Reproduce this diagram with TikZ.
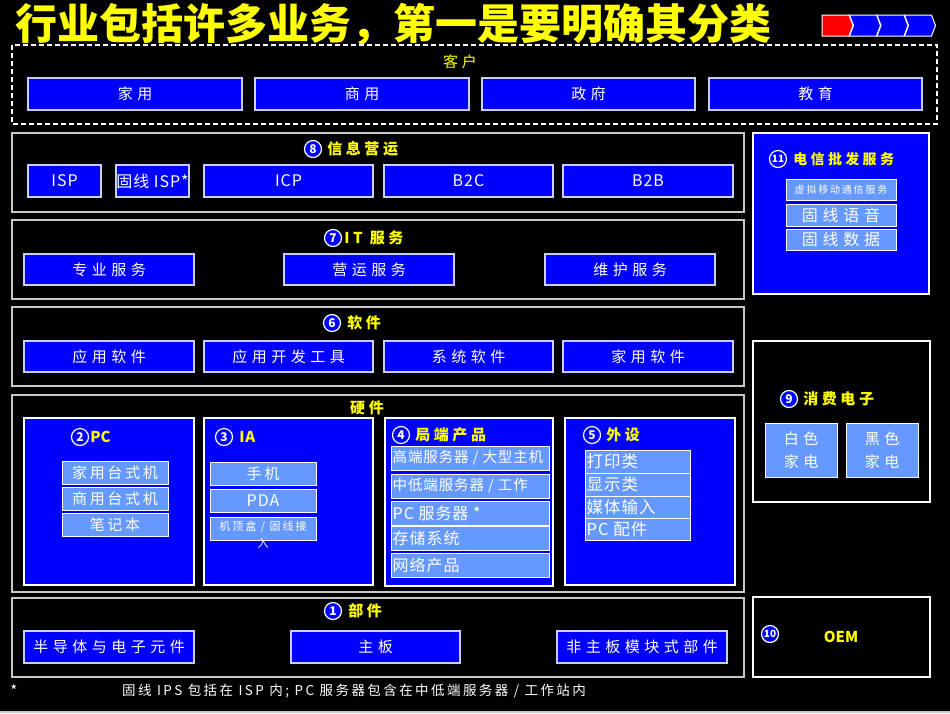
\documentclass[tikz,border=0pt]{standalone}
\usepackage{fontspec}
\setmainfont{Noto Sans CJK SC}
\newfontfamily\boxfont{Noto Sans CJK SC}[LetterSpace=30]
\newfontfamily\subfont{Noto Sans CJK SC}[LetterSpace=18]
\newfontfamily\tightfont{Noto Sans CJK SC}[LetterSpace=6]
\newfontfamily\headfont{Noto Sans CJK SC}[LetterSpace=24]
\usetikzlibrary{positioning}
\definecolor{pblue}{HTML}{0000FF}
\definecolor{lblue}{HTML}{6699FF}
\definecolor{edge}{HTML}{CCCCFF}
\definecolor{frameg}{HTML}{C8C8C8}
\definecolor{ttl}{HTML}{FFFF00}
\definecolor{tipred}{HTML}{FF0000}

\begin{document}
\begin{tikzpicture}[
    x=1pt, y=-1pt,
    item/.style={draw=edge, fill=pblue, text=white, line width=1.2pt, inner sep=0pt, minimum height=32pt, font=\fontsize{15}{15}\selectfont\boxfont},
    latin/.style={font=\fontsize{16}{16}\selectfont\tightfont},
    sub/.style={draw=white, fill=lblue, text=white, line width=1pt, inner sep=0pt, minimum height=23pt, font=\fontsize{15}{15}\selectfont\subfont},
    subtxt/.style={text=white, inner sep=2pt, font=\fontsize{14.5}{15}\selectfont\tightfont},
    group/.style={draw=white, fill=pblue, line width=1.2pt, inner sep=0pt},
    frame/.style={draw=frameg, line width=1.5pt},
    head/.style={text=ttl, inner sep=0pt, font=\fontsize{15}{15}\selectfont\headfont\bfseries},
    numc/.style={circle, fill=pblue, draw=white, line width=1.2pt, text=white, minimum size=17pt, inner sep=0pt, font=\fontsize{12}{12}\selectfont\bfseries}
]

\fill[black] (0,0) rectangle (950,713);
\useasboundingbox (0,0) rectangle (950,713);
\draw[frameg, line width=1.5pt] (0,712) -- (950,712);

% title and progress marks
\node[text=ttl, inner sep=0pt, font=\fontsize{42}{42}\selectfont\bfseries] (title) at (393,25) {行业包括许多业务，第一是要明确其分类};
\foreach \i/\c in {0/tipred,1/pblue,2/pblue,3/pblue}{
  \pgfmathsetmacro{\a}{822+27.5*\i}
  \ifnum\i=0
    \filldraw[fill=\c, draw=white, line width=1pt] (\a,15) -- (\a+27,15) -- (\a+31,25.5) -- (\a+27,36) -- (\a,36) -- cycle;
  \else
    \filldraw[fill=\c, draw=white, line width=1pt] (\a,15) -- (\a+27,15) -- (\a+31,25.5) -- (\a+27,36) -- (\a,36) -- (\a+4,25.5) -- cycle;
  \fi
}

% customers
\draw[white, line width=1.3pt, dash pattern=on 5pt off 3pt] (12,45) rectangle (937,124);
\node[text=ttl, inner sep=0pt, font=\fontsize{15}{15}\selectfont\headfont] (cust) at (460,62) {客户};
\node[item, minimum width=214pt] (home) at (135,94) {家用};
\node[item, minimum width=214pt] (biz) at (362,94) {商用};
\node[item, minimum width=213pt] (gov) at (588.5,94) {政府};
\node[item, minimum width=213pt] (edu) at (815.5,94) {教育};

% 8 information operation
\draw[frame] (12,133) rectangle (744,212);
\node[numc] (c8) at (313,149) {8};
\node[head, right=5pt of c8] (t8) {信息营运};
\node[item, latin, minimum width=73pt] (isp) at (64.5,181) {ISP};
\node[item, latin, minimum width=73pt] (fisp) at (152.5,181) {固线 ISP*};
\node[item, latin, minimum width=169pt] (icp) at (288.5,181) {ICP};
\node[item, latin, minimum width=169pt] (b2c) at (468.5,181) {B2C};
\node[item, latin, minimum width=170pt] (b2b) at (648,181) {B2B};

% 7 IT services
\draw[frame] (12,220) rectangle (744,299);
\node[numc] (c7) at (333,238) {7};
\node[head, right=2pt of c7] (t7) {IT 服务};
\node[item, minimum width=170pt, minimum height=31pt] (pro) at (109,269.5) {专业服务};
\node[item, minimum width=170pt, minimum height=31pt] (ops) at (369,269.5) {营运服务};
\node[item, minimum width=170pt, minimum height=31pt] (mnt) at (630,269.5) {维护服务};

% 6 software
\draw[frame] (12,307) rectangle (744,386);
\node[numc] (c6) at (332,323) {6};
\node[head, right=6pt of c6] (t6) {软件};
\node[item, minimum width=170pt, minimum height=31pt] (app) at (109,356.5) {应用软件};
\node[item, minimum width=169pt, minimum height=31pt] (dev) at (288.5,356.5) {应用开发工具};
\node[item, minimum width=169pt, minimum height=31pt] (sys) at (468.5,356.5) {系统软件};
\node[item, minimum width=170pt, minimum height=31pt] (hsw) at (648,356.5) {家用软件};

% hardware
\draw[frame] (12,395) rectangle (744,592);
\node[head] (hw) at (367,408) {硬件};

\node[group, minimum width=170pt, minimum height=167pt] (pc) at (109,501.5) {};
\node[numc] (c2) at (80,437) {2};
\node[head, right=1pt of c2, font=\fontsize{15}{15}\selectfont\bfseries] (t2) {PC};
\node[sub, minimum width=106pt] (hpc) at (115,472.5) {家用台式机};
\node[sub, minimum width=106pt] (bpc) at (115,498.5) {商用台式机};
\node[sub, minimum width=106pt] (nb) at (115,524.5) {笔记本};

\node[group, minimum width=169pt, minimum height=167pt] (ia) at (288.5,501.5) {};
\node[numc] (c3) at (224,437) {3};
\node[head, right=6pt of c3, font=\fontsize{15}{15}\selectfont\tightfont\bfseries] (t3) {IA};
\node[sub, minimum width=106pt] (ph) at (263,473.5) {手机};
\node[sub, latin, minimum width=106pt] (pda) at (263,500.5) {PDA};
\node[sub, minimum width=106pt] (stb) at (263,528.5) {};
\node[text=white, inner sep=0pt, align=center, anchor=north, font=\fontsize{11}{17}\selectfont\subfont] (stbt) at ([yshift=-4pt]stb.north) {机顶盒 / 固线接\\入};

\node[group, minimum width=168pt, minimum height=168pt] (srv) at (469,502) {};
\node[numc] (c4) at (401,435) {4};
\node[head, right=5pt of c4] (t4) {局端产品};
\node[sub, minimum width=158pt, minimum height=24pt] (hs) at (470,458) {};
\node[subtxt, right=0pt of hs.west] (hst) {高端服务器 / 大型主机};
\node[sub, minimum width=158pt, minimum height=24pt] (ms) at (470,486) {};
\node[subtxt, right=0pt of ms.west] (mst) {中低端服务器 / 工作};
\node[sub, minimum width=158pt, minimum height=24pt] (ps) at (470,513) {};
\node[subtxt, right=0pt of ps.west, font=\fontsize{16}{16}\selectfont\tightfont] (pst) {PC 服务器 *};
\node[sub, minimum width=158pt, minimum height=24pt] (st) at (470,538.5) {};
\node[subtxt, right=0pt of st.west, font=\fontsize{16}{16}\selectfont\tightfont] (stt) {存储系统};
\node[sub, minimum width=158pt, minimum height=24pt] (net) at (470,565) {};
\node[subtxt, right=0pt of net.west, font=\fontsize{16}{16}\selectfont\tightfont] (nett) {网络产品};

\node[group, minimum width=170pt, minimum height=167pt] (per) at (650,501.5) {};
\node[numc] (c5) at (592,435) {5};
\node[head, right=5pt of c5] (t5) {外设};
\node[sub, minimum width=105pt] (prn) at (637.5,461.5) {};
\node[subtxt, right=0pt of prn.west, font=\fontsize{16.5}{16}\selectfont\tightfont] (prnt) {打印类};
\node[sub, minimum width=105pt] (dsp) at (637.5,484.5) {};
\node[subtxt, right=0pt of dsp.west, font=\fontsize{16.5}{16}\selectfont\tightfont] (dspt) {显示类};
\node[sub, minimum width=105pt, minimum height=22pt] (med) at (637.5,507) {};
\node[subtxt, right=0pt of med.west, font=\fontsize{16.5}{16}\selectfont\tightfont] (medt) {媒体输入};
\node[sub, minimum width=105pt, minimum height=22pt] (acc) at (637.5,529) {};
\node[subtxt, right=0pt of acc.west, font=\fontsize{16.5}{16}\selectfont\tightfont] (acct) {PC 配件};

% 1 components
\draw[frame] (12,598) rectangle (744,677);
\node[numc] (c1) at (333,611) {1};
\node[head, right=6pt of c1] (t1) {部件};
\node[item, minimum width=170pt] (semi) at (109,647) {半导体与电子元件};
\node[item, minimum width=169pt] (mb) at (375.5,647) {主板};
\node[item, minimum width=170pt] (mod) at (642,647) {非主板模块式部件};

% 11 telecom wholesale
\node[group, minimum width=176pt, minimum height=161pt] (tel) at (841,213.5) {};
\node[numc, font=\fontsize{10}{10}\selectfont\bfseries] (c11) at (778,159) {11};
\node[head, right=6pt of c11, font=\fontsize{14}{14}\selectfont\headfont\bfseries] (t11) {电信批发服务};
\node[sub, minimum width=110pt, minimum height=21pt, font=\fontsize{10}{10}\selectfont\subfont] (mvno) at (841,189.5) {虚拟移动通信服务};
\node[sub, minimum width=110pt, minimum height=22pt, font=\fontsize{16}{16}\selectfont\boxfont] (fv) at (841,215) {固线语音};
\node[sub, minimum width=110pt, minimum height=21pt, font=\fontsize{16}{16}\selectfont\boxfont] (fd) at (841,239.5) {固线数据};

% 9 consumer electronics
\draw[frame, draw=white] (753,341) rectangle (930,502);
\node[numc] (c9) at (789,399) {9};
\node[head, right=5pt of c9] (t9) {消费电子};
\node[sub, minimum width=72pt, minimum height=54pt, align=center, font=\fontsize{15}{23}\selectfont\boxfont] (white) at (801,450) {白色\\家电};
\node[sub, minimum width=72pt, minimum height=54pt, align=center, font=\fontsize{15}{23}\selectfont\boxfont] (brown) at (882,450) {黑色\\家电};

% 10 OEM
\draw[frame, draw=white] (753,597) rectangle (930,677);
\node[numc, font=\fontsize{10}{10}\selectfont\bfseries] (c10) at (770,634) {10};
\node[head, font=\fontsize{15}{15}\selectfont\bfseries] (oem) at (841,637) {OEM};

% note
\node[text=white, inner sep=0pt, font=\fontsize{15}{15}\selectfont] (star) at (14,691) {*};
\node[text=white, inner sep=0pt, anchor=west, font=\fontsize{13.5}{13}\selectfont\subfont] (note) at (122,691) {固线 IPS 包括在 ISP 内; PC 服务器包含在中低端服务器 / 工作站内};

\end{tikzpicture}
\end{document}
